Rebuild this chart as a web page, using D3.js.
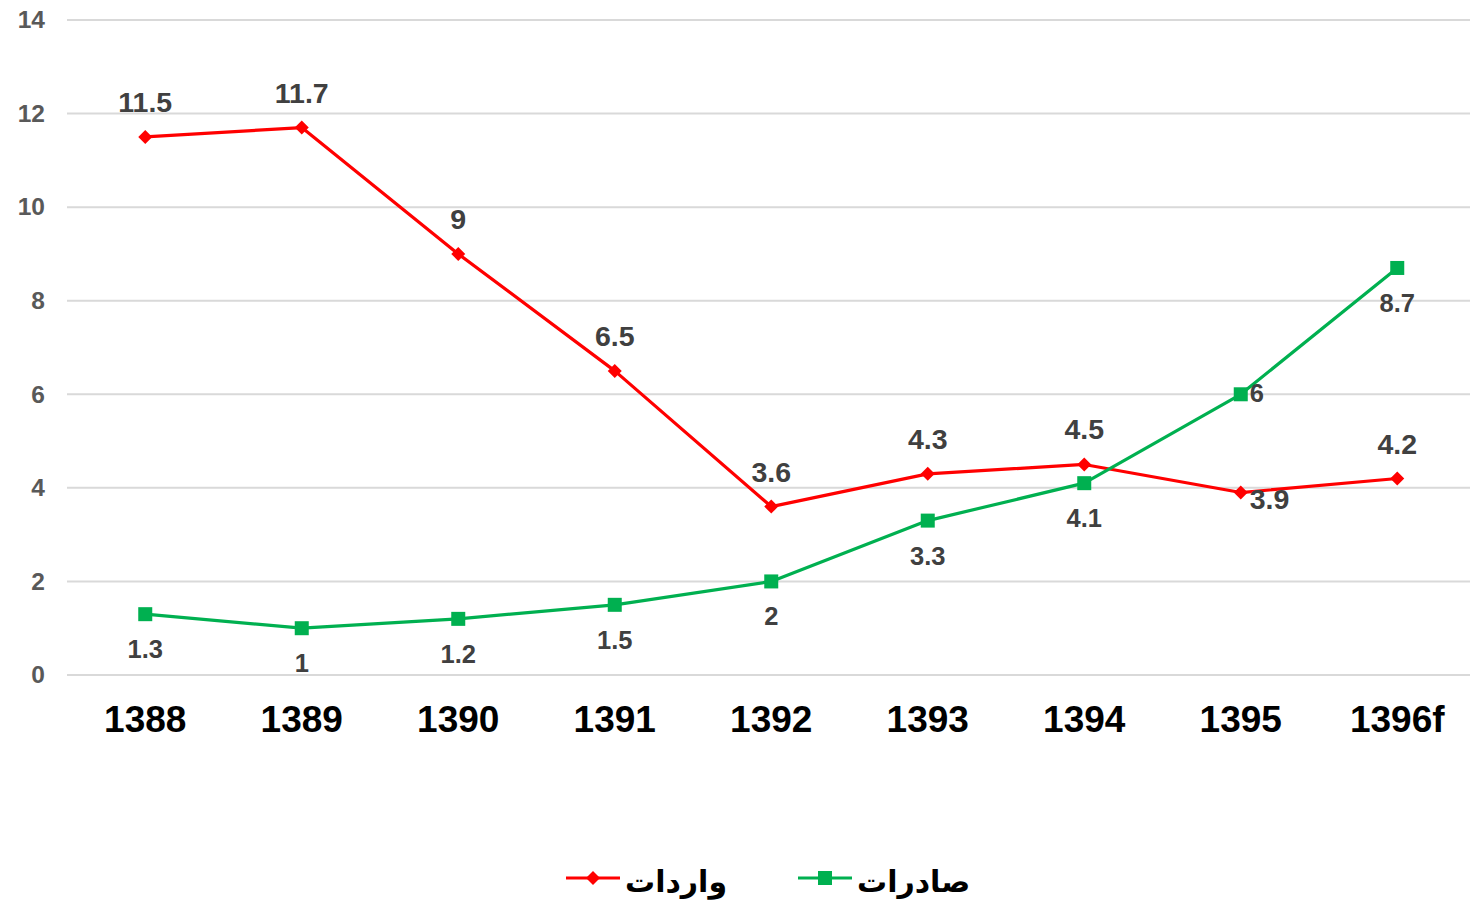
<!DOCTYPE html>
<html>
<head>
<meta charset="utf-8">
<script src="https://cdn.jsdelivr.net/npm/d3@7"></script>
<style>
  html, body { margin: 0; padding: 0; background: #fff; }
  svg { display: block; font-family: "Liberation Sans", Arial, sans-serif; }
</style>
</head>
<body>
<svg id="chart" width="1470" height="908"></svg>
<script>
// data
const years = ['1388', '1389', '1390', '1391', '1392', '1393', '1394', '1395', '1396f'];
const imports = [11.5, 11.7, 9, 6.5, 3.6, 4.3, 4.5, 3.9, 4.2];   // واردات
const exports = [1.3, 1, 1.2, 1.5, 2, 3.3, 4.1, 6, 8.7];        // صادرات
const yTicks = [0, 2, 4, 6, 8, 10, 12, 14];

// where each data label sits relative to its point
const importsLabelPos = ['above', 'above', 'above', 'above', 'above', 'above', 'above', 'right', 'above'];
const exportsLabelPos = ['below', 'below', 'below', 'below', 'below', 'below', 'below', 'right', 'below'];

const series = [
  {name: 'واردات', values: imports, color: '#ff0000', marker: 'diamond', labels: importsLabelPos, labelSize: 28.5},
  {name: 'صادرات', values: exports, color: '#00b050', marker: 'square', labels: exportsLabelPos, labelSize: 25.5},
];

const svg = d3.select('#chart');
const margin = {left: 67, top: 20, bottom: 233};
const width = 1470;
const height = 908;

// category bands run a little past the right edge of the grid
const x = d3.scaleBand()
  .domain(years)
  .range([margin.left, margin.left + 9 * 156.5]);

const y = d3.scaleLinear()
  .domain([0, 14])
  .range([height - margin.bottom, margin.top]);

// gridlines
svg.append('g')
  .selectAll('line')
  .data(yTicks)
  .join('line')
  .attr('x1', margin.left)
  .attr('x2', width)
  .attr('y1', (d) => y(d))
  .attr('y2', (d) => y(d))
  .attr('stroke', '#d9d9d9')
  .attr('stroke-width', 2);

// y axis labels
const yAxis = svg.append('g')
  .attr('transform', `translate(${margin.left - 22},0)`)
  .call(d3.axisLeft(y).tickValues(yTicks).tickSize(0).tickPadding(0));
yAxis.select('.domain').remove();
yAxis.selectAll('text')
  .attr('font-size', 24.5)
  .attr('font-weight', 'bold')
  .attr('fill', '#595959')
  .attr('font-family', '"Liberation Sans", Arial, sans-serif');

// x axis labels
const xAxis = svg.append('g')
  .attr('transform', `translate(0,${y(0) + 31})`)
  .call(d3.axisBottom(x).tickSize(0).tickPadding(0));
xAxis.select('.domain').remove();
xAxis.selectAll('text')
  .attr('font-size', 37)
  .attr('font-weight', 'bold')
  .attr('fill', '#000')
  .attr('font-family', '"Liberation Sans", Arial, sans-serif');

const cx = (i) => x(years[i]) + x.bandwidth() / 2;

const line = d3.line()
  .x((d, i) => cx(i))
  .y((d) => y(d));

function drawMarker(g, type, color) {
  if (type === 'diamond') {
    g.append('path')
      .attr('d', 'M0,-7L7,0L0,7L-7,0Z')
      .attr('fill', color);
  } else {
    g.append('rect')
      .attr('x', -7)
      .attr('y', -7)
      .attr('width', 14)
      .attr('height', 14)
      .attr('fill', color);
  }
}

series.forEach((s) => {
  const g = svg.append('g');
  g.append('path')
    .datum(s.values)
    .attr('d', line)
    .attr('fill', 'none')
    .attr('stroke', s.color)
    .attr('stroke-width', 3.2)
    .attr('stroke-linejoin', 'round');

  g.selectAll('.marker')
    .data(s.values)
    .join('g')
    .attr('class', 'marker')
    .attr('transform', (d, i) => `translate(${cx(i)},${y(d)})`)
    .each(function () {
      drawMarker(d3.select(this), s.marker, s.color);
    });

  g.selectAll('.label')
    .data(s.values)
    .join('text')
    .attr('class', 'label')
    .attr('x', (d, i) => (s.labels[i] === 'right' ? cx(i) + 9 : cx(i)))
    .attr('y', (d, i) => {
      const pos = s.labels[i];
      if (pos === 'above') return y(d) - 25;
      if (pos === 'below') return y(d) + 44;
      return y(d) + (s.values === imports ? 16 : 8);
    })
    .attr('text-anchor', (d, i) => (s.labels[i] === 'right' ? 'start' : 'middle'))
    .attr('font-size', s.labelSize)
    .attr('font-weight', 'bold')
    .attr('fill', '#404040')
    .text((d) => d);
});

// legend
const legendItems = [
  {series: series[0], x: 566},
  {series: series[1], x: 798},
];
const legend = svg.append('g').attr('transform', 'translate(0,878)');
legendItems.forEach((item) => {
  const g = legend.append('g').attr('transform', `translate(${item.x},0)`);
  g.append('line')
    .attr('x1', 0)
    .attr('x2', 54)
    .attr('stroke', item.series.color)
    .attr('stroke-width', 3.2);
  const m = g.append('g').attr('transform', 'translate(27,0)');
  drawMarker(m, item.series.marker, item.series.color);
  g.append('text')
    .attr('x', 59)
    .attr('y', 14)
    .attr('text-anchor', 'end')
    .attr('direction', 'rtl')
    .attr('font-family', '"DejaVu Sans", sans-serif')
    .attr('font-size', 30)
    .attr('font-weight', 'bold')
    .attr('fill', '#000')
    .text(item.series.name);
});
</script>
</body>
</html>
